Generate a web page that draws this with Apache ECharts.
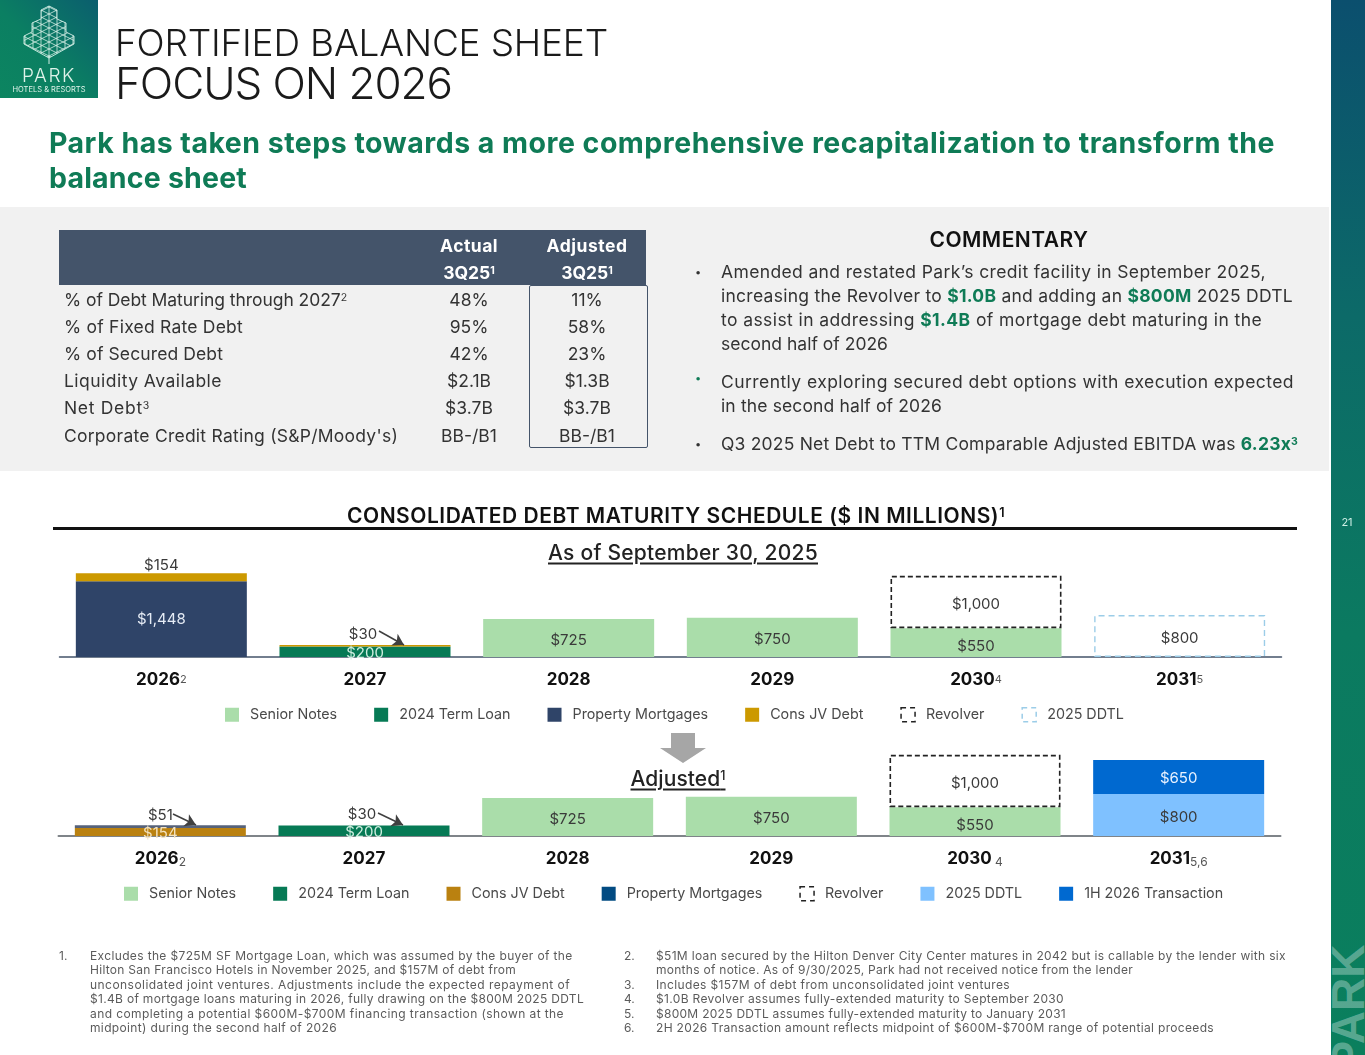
<!DOCTYPE html>
<html><head><meta charset="utf-8">
<title>Fortified Balance Sheet</title>
<script src="https://cdn.jsdelivr.net/npm/echarts@6/dist/echarts.min.js"></script>
<style>
html,body{margin:0;padding:0;background:#fff;width:1365px;height:1055px;overflow:hidden;font-family:Inter,"Noto Sans",sans-serif;}
.t{position:absolute;white-space:nowrap;line-height:1;transform:translateY(-50%);color:#333;z-index:5;}
.c{transform:translate(-50%,-50%);}
sup{font-size:.6em;line-height:0;vertical-align:baseline;position:relative;top:-.5em;}
b{color:#0F7B56;font-weight:700;}
#panel{position:absolute;left:0;top:207px;width:1329px;height:264px;background:#F1F1F1;}
#thead{position:absolute;left:59px;top:230px;width:587px;height:55px;background:#44546A;}
#box{position:absolute;left:529px;top:285px;width:117px;height:161px;border:1.5px solid #44546A;border-top-width:1px;border-radius:2px;}
#rule{position:absolute;left:53px;top:527px;width:1244px;height:3px;background:#111;}
#side{position:absolute;left:1331px;top:0;width:34px;height:1055px;overflow:hidden;background:linear-gradient(to bottom,#0B4F6E 0%,#0C6A68 30%,#0B7A60 60%,#0A7F5D 100%);}
#sidepark{position:absolute;left:-49px;top:985px;width:132px;text-align:center;font:700 46px/46px "Liberation Sans",sans-serif;color:rgba(255,255,255,.33);transform:rotate(-90deg);}
#logo{position:absolute;left:0;top:0;width:98px;height:98px;background:linear-gradient(45deg,#0C8560 0%,#0B7F62 45%,#0B5E6E 100%);}
.chart{position:absolute;left:0;top:0;width:1365px;height:1055px;z-index:3;}
</style></head><body>
<div id="panel"></div><div id="thead"></div><div id="box"></div><div id="rule"></div>
<div id="side"><div id="sidepark">PARK</div></div>
<div id="logo"><svg width="98" height="98" id="tree"></svg></div>
<div class="t c" style="left:49px;top:75px;font-size:19px;font-weight:300;color:#dff3ea" data-w="54">PARK</div>
<div class="t c" style="left:49px;top:90px;font-size:7.5px;color:#dff3ea" data-w="73">HOTELS &amp; RESORTS</div>
<div class="t c" style="left:1347px;top:522px;font-size:11px;color:#cdeee5">21</div>
<svg style="position:absolute;left:655px;top:730px;z-index:6" width="60" height="36"><polygon points="16,3 40,3 40,18 51,18 28,33 5,18 16,18" fill="#A6A6A6"/></svg>

<div class="t" style="left:115px;top:42px;font-size:37px;font-weight:300;color:#1a1a1a" data-w="493">FORTIFIED BALANCE SHEET</div>
<div class="t" style="left:115px;top:83px;font-size:44px;font-weight:300;color:#1a1a1a" data-w="337">FOCUS ON 2026</div>
<div class="t" style="left:49px;top:143px;font-size:28.5px;font-weight:700;color:#0F7B56" data-w="1226">Park has taken steps towards a more comprehensive recapitalization to transform the</div>
<div class="t" style="left:49px;top:178px;font-size:28.5px;font-weight:700;color:#0F7B56" data-w="198">balance sheet</div>

<div class="t c" style="left:469px;top:246px;font-size:17.5px;font-weight:700;color:#fff" data-w="58">Actual</div>
<div class="t c" style="left:587px;top:246px;font-size:17.5px;font-weight:700;color:#fff" data-w="81">Adjusted</div>
<div class="t c" style="left:469px;top:273px;font-size:17.5px;font-weight:700;color:#fff">3Q25<sup>1</sup></div>
<div class="t c" style="left:587px;top:273px;font-size:17.5px;font-weight:700;color:#fff">3Q25<sup>1</sup></div>
<div id="tbody"></div>

<div class="t c" style="left:1009px;top:239px;font-size:21px;font-weight:600;color:#111" data-w="159">COMMENTARY</div>
<div class="t" style="left:695px;top:272px;font-size:11px">•</div>
<div class="t" style="left:695px;top:378px;font-size:11px;color:#0F7B56">•</div>
<div class="t" style="left:695px;top:444px;font-size:11px">•</div>
<div class="t" style="left:721px;top:272px;font-size:17.5px" data-w="545">Amended and restated Park’s credit facility in September 2025,</div>
<div class="t" style="left:721px;top:296px;font-size:17.5px" data-w="572">increasing the Revolver to <b>$1.0B</b> and adding an <b>$800M</b> 2025 DDTL</div>
<div class="t" style="left:721px;top:320px;font-size:17.5px" data-w="541">to assist in addressing <b>$1.4B</b> of mortgage debt maturing in the</div>
<div class="t" style="left:721px;top:344px;font-size:17.5px" data-w="167">second half of 2026</div>
<div class="t" style="left:721px;top:382px;font-size:17.5px" data-w="573">Currently exploring secured debt options with execution expected</div>
<div class="t" style="left:721px;top:406px;font-size:17.5px" data-w="221">in the second half of 2026</div>
<div class="t" style="left:721px;top:444px;font-size:17.5px" data-w="577">Q3 2025 Net Debt to TTM Comparable Adjusted EBITDA was <b>6.23x<sup>3</sup></b></div>

<div class="t c" style="left:676px;top:515px;font-size:21px;font-weight:600;color:#111" data-w="658">CONSOLIDATED DEBT MATURITY SCHEDULE ($ IN MILLIONS)<sup>1</sup></div>
<div class="t c" style="left:683px;top:552px;font-size:21px;font-weight:500;color:#222;text-decoration:underline;text-underline-offset:3px" data-w="270">As of September 30, 2025</div>
<div class="t c" style="left:678px;top:778px;font-size:21px;font-weight:500;color:#222;text-decoration:underline;text-underline-offset:3px" data-w="95">Adjusted<sup>1</sup></div>

<div id="notes"></div>
<div id="chartTop" class="chart"></div>
<div id="chartBottom" class="chart"></div>

<script>
// Table
const rowLabels = ['% of Debt Maturing through 2027<sup>2</sup>','% of Fixed Rate Debt','% of Secured Debt','Liquidity Available','Net Debt<sup>3</sup>',"Corporate Credit Rating (S&P/Moody's)"];
const actualValues = ['48%','95%','42%','$2.1B','$3.7B','BB-/B1'];
const adjustedValues = ['11%','58%','23%','$1.3B','$3.7B','BB-/B1'];

// Chart: as of September 30, 2025
const years = ['2026','2027','2028','2029','2030','2031'];
const topMarks = ['2','','','','4','5'];
const topSenior = [null,null,725,750,550,null];
const topTermLoan = [null,200,null,null,null,null];
const topMortgages = [1448,null,null,null,null,null];
const topConsJv = [154,30,null,null,null,null];
const topRevolver = [null,null,null,null,1000,null];
const topDdtl = [null,null,null,null,null,800];

// Chart: adjusted
const botMarks = ['2','','','',' 4','5,6'];
const botSenior = [null,null,725,750,550,null];
const botTermLoan = [null,200,null,null,null,null];
const botConsJv = [154,30,null,null,null,null];
const botMortgages = [51,null,null,null,null,null];
const botRevolver = [null,null,null,null,1000,null];
const botDdtl = [null,null,null,null,null,800];
const botTransaction = [null,null,null,null,null,650];

// Footnotes
const notesLeft = ['Excludes the $725M SF Mortgage Loan,  which was assumed by the buyer of the','Hilton San Francisco Hotels in November 2025, and $157M of debt from','unconsolidated joint ventures. Adjustments include the expected repayment of','$1.4B of mortgage loans maturing in 2026, fully drawing on the $800M 2025 DDTL','and completing a potential $600M-$700M financing transaction (shown at the','midpoint) during the second half of 2026'];
const notesRight = ['$51M loan secured by the Hilton Denver City Center matures in 2042 but is callable by the lender with six','months of notice. As of 9/30/2025, Park had not received notice from the lender','Includes $157M of debt from unconsolidated joint ventures','$1.0B Revolver assumes fully-extended maturity to September 2030','$800M 2025 DDTL assumes fully-extended maturity to January 2031','2H 2026 Transaction amount reflects midpoint of $600M-$700M range of potential proceeds'];
const notesRightNums = ['2.','','3.','4.','5.','6.'];

// Build HTML text
const rowY=[300,327,354,381,408,436], rowW=[283,179,159,158,86,334];
let h='';
rowLabels.forEach((s,i)=>{
  h+=`<div class="t" style="left:64px;top:${rowY[i]}px;font-size:17.5px" data-w="${rowW[i]}">${s}</div>`;
  h+=`<div class="t c" style="left:469px;top:${rowY[i]}px;font-size:17.5px">${actualValues[i]}</div>`;
  h+=`<div class="t c" style="left:587px;top:${rowY[i]}px;font-size:17.5px">${adjustedValues[i]}</div>`;
});
document.getElementById('tbody').innerHTML=h;
const noteY=[956,970,985,999,1014,1028], leftW=[483,426,480,494,474,247], rightW=[630,477,354,408,410,558];
const nc='#5b5b5b';
h=`<div class="t" style="left:59px;top:956px;font-size:12px;color:${nc}">1.</div>`;
notesLeft.forEach((s,i)=>{h+=`<div class="t" style="left:90px;top:${noteY[i]}px;font-size:12px;color:${nc}" data-w="${leftW[i]}">${s}</div>`;});
notesRight.forEach((s,i)=>{
  if(notesRightNums[i])h+=`<div class="t" style="left:624px;top:${noteY[i]}px;font-size:12px;color:${nc}">${notesRightNums[i]}</div>`;
  h+=`<div class="t" style="left:656px;top:${noteY[i]}px;font-size:12px;color:${nc}" data-w="${rightW[i]}">${s}</div>`;
});
document.getElementById('notes').innerHTML=h;
document.querySelectorAll('[data-w]').forEach(el=>{
  const w=el.getBoundingClientRect().width, n=el.textContent.length;
  el.style.letterSpacing=((+el.dataset.w-w)/n).toFixed(3)+'px';
});

// Logo tree lattice
(function(){
  const sil='49,6 57,10 57,19 66,23 66,32 74,36 74,44 49,58 24,44 24,36 32,32 32,23 41,19 41,10';
  let s=`<defs><clipPath id="cp"><polygon points="${sil}"/></clipPath></defs><g clip-path="url(#cp)" stroke="#d5efe6" stroke-width=".8" fill="none">`;
  for(let i=-8;i<=24;i++){
    s+=`<line x1="0" y1="${i*7+24.5}" x2="98" y2="${i*7+24.5-49}"/><line x1="98" y1="${i*7+24.5}" x2="0" y2="${i*7+24.5-49}"/>`;
  }
  for(let x=25;x<=73;x+=8)s+=`<line x1="${x}" y1="0" x2="${x}" y2="70"/>`;
  s+=`</g><polygon points="${sil}" fill="none" stroke="#d5efe6" stroke-width=".9"/><line x1="49" y1="56" x2="49" y2="64" stroke="#d5efe6"/>`;
  document.getElementById('tree').innerHTML=s;
})();

// Charts
const FONT='Inter';
const TXT='#3a3a3a';
const money=p=>'$'+p.value.toLocaleString('en-US');
const darkLabel={show:true,position:'inside',offset:[0,2],color:TXT,fontFamily:FONT,fontSize:15,formatter:money};
const lightLabel=c=>({show:true,position:'inside',offset:[0,2],color:c,fontFamily:FONT,fontSize:15,formatter:money});
function bar(name,data,color,label,extra){
  return Object.assign({type:'bar',name,data,stack:'d',barWidth:171,itemStyle:{color},label:label||{show:false},emphasis:{disabled:true},animation:false,silent:true},extra||{});
}
function arrow(a,b){return [{x:a[0],y:a[1],symbol:'none'},{x:b[0],y:b[1],symbol:'arrow',symbolSize:[10,11]}];}
function arrows(list){return {silent:true,animation:false,symbol:['none','arrow'],label:{show:false},lineStyle:{color:'#404040',width:1.5,type:'solid'},data:list};}
function cat(rich,fn){
  return {type:'category',data:years,axisTick:{show:false},axisLabel:{margin:14,interval:0,formatter:fn,rich}};
}
function legend(left,top,names,icons){
  return {left,top,itemWidth:14,itemHeight:14,itemGap:37,icon:'rect',selectedMode:false,
    textStyle:{fontFamily:FONT,fontSize:14.3,color:'#4a4a4a',padding:[0,0,0,6]},
    data:names.map((n,i)=>Object.assign({name:n},icons[i]||{}))};
}
// the short $550 bars carry their label a little lower in the reference
const lowered=arr=>arr.map(v=>v===550?{value:v,label:{offset:[0,4]}}:v);
const dashRev={color:'transparent',borderColor:'#222',borderWidth:1.6,borderType:[5,3]};
const dashDdtl={color:'transparent',borderColor:'#9CCDE8',borderWidth:1.4,borderType:[6,4]};

const richTop={y:{fontFamily:FONT,fontWeight:700,fontSize:17,color:'#111'},m:{fontFamily:FONT,fontSize:11,color:'#555'}};
const chartTop=echarts.init(document.getElementById('chartTop'),null,{renderer:'canvas'});
chartTop.setOption({
  animation:false,
  legend:legend(220,702,['Senior Notes','2024 Term Loan','Property Mortgages','Cons JV Debt','Revolver','2025 DDTL'],
    [null,null,null,null,{itemStyle:{color:'#fff',borderColor:'#222',borderWidth:1.5,borderType:[5,4]}},{itemStyle:{color:'#fff',borderColor:'#9CCDE8',borderWidth:1.5,borderType:[5,4]}}]),
  grid:{left:59.5,width:1222,top:568,height:89},
  xAxis:Object.assign(cat(richTop,(v,i)=>`{y|${v}}`+(topMarks[i]?`{m|${topMarks[i]}}`:'')),{axisLine:{lineStyle:{color:'#44546A',width:1.5}}}),
  yAxis:{type:'value',min:0,max:1700,show:false},
  series:[
    bar('Senior Notes',lowered(topSenior),'#AADDAA',darkLabel),
    bar('2024 Term Loan',topTermLoan,'#067A55',lightLabel('#cfeee0')),
    bar('Property Mortgages',topMortgages,'#2F4468',Object.assign(lightLabel('#e6ecf5'),{offset:[0,0]})),
    bar('Cons JV Debt',topConsJv.map((v,i)=>i===1?{value:v,label:{offset:[-2,-3]}}:v),'#CC9900',{show:true,position:'top',distance:0,color:TXT,fontFamily:FONT,fontSize:15,formatter:money},
      {markLine:arrows([arrow([379,631],[404,645])])}),
    bar('Revolver',topRevolver,'transparent',darkLabel,{itemStyle:dashRev}),
    bar('2025 DDTL',topDdtl,'transparent',darkLabel,{itemStyle:dashDdtl})
  ]
});

const richBot={y:{fontFamily:FONT,fontWeight:700,fontSize:17,color:'#111'},m:{fontFamily:FONT,fontSize:12,color:'#555',verticalAlign:'bottom',padding:[6,0,0,0]}};
const chartBottom=echarts.init(document.getElementById('chartBottom'),null,{renderer:'canvas'});
chartBottom.setOption({
  animation:false,
  legend:legend(119,881,['Senior Notes','2024 Term Loan','Cons JV Debt','Property Mortgages','Revolver','2025 DDTL','1H 2026 Transaction'],
    [null,null,null,{itemStyle:{color:'#024B82'}},{itemStyle:{color:'#fff',borderColor:'#222',borderWidth:1.5,borderType:[5,4]}},null,null]),
  grid:{left:58.5,width:1222,top:747,height:89},
  xAxis:Object.assign(cat(richBot,(v,i)=>`{y|${v}}`+(botMarks[i]?`{m|${botMarks[i]}}`:'')),{axisLine:{lineStyle:{color:'#7F8489',width:2}}}),
  yAxis:{type:'value',min:0,max:1700,show:false},
  series:[
    bar('Senior Notes',lowered(botSenior),'#AADDAA',darkLabel),
    bar('2024 Term Loan',botTermLoan,'#067A55',lightLabel('#cfeee0')),
    bar('Cons JV Debt',botConsJv.map((v,i)=>i===1
        ?{value:v,itemStyle:{color:'transparent'},label:{show:true,position:'top',distance:2,offset:[-2,0],color:TXT,fontFamily:FONT,fontSize:15,formatter:money}}
        :{value:v,label:{show:v!=null,position:'inside',offset:[0,2],color:'#f3e3c0',fontFamily:FONT,fontSize:15,formatter:money}}),
      '#BA8110',{show:false}),
    bar('Property Mortgages',botMortgages,'#56627A',{show:true,position:'top',distance:2,color:TXT,fontFamily:FONT,fontSize:15,formatter:money},
      {markLine:arrows([arrow([173,814],[196,825]),arrow([378,813],[403,825])])}),
    bar('Revolver',botRevolver,'transparent',darkLabel,{itemStyle:dashRev}),
    bar('2025 DDTL',botDdtl,'#7FC1FF',darkLabel),
    bar('1H 2026 Transaction',botTransaction,'#0069D0',Object.assign(lightLabel('#e8f2ff'),{offset:[0,1]}))
  ]
});
</script>
</body></html>
